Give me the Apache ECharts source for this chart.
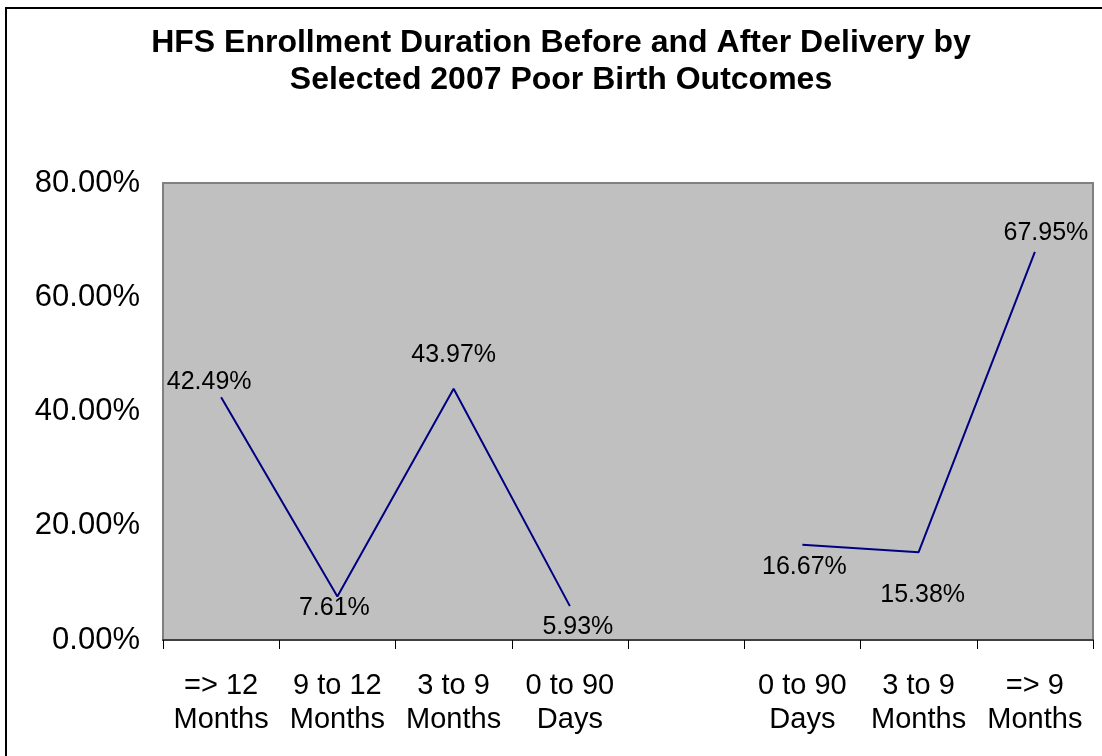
<!DOCTYPE html>
<html>
<head>
<meta charset="utf-8">
<script src="https://cdn.jsdelivr.net/npm/echarts@6/dist/echarts.min.js"></script>
<style>
	html,body{margin:0;padding:0;background:#fff;}
	/*外框*/
	.frame{position:absolute;left:5px;top:7px;width:1200px;height:800px;border:2px solid #000;box-sizing:border-box;}
	.chart{position:absolute;left:0;top:0;width:1102px;height:756px;}
</style>
</head>
<body>
<div class="frame"></div>
<div id="myChart" class="chart"></div>
<script>
	// 数据
	var categories = ['=> 12\nMonths', '9 to 12\nMonths', '3 to 9\nMonths', '0 to 90\nDays', '', '0 to 90\nDays', '3 to 9\nMonths', '=> 9\nMonths'];
	var values = [42.49, 7.61, 43.97, 5.93, null, 16.67, 15.38, 67.95];
	var yTicks = [0, 20, 40, 60, 80];

	// 标签偏移
	var labelOffsets = [[-12, -15], [-3, 12], [0, -34], [8, 21], [0, 0], [2, 22], [4, 43], [11, -19]];

	var seriesData = values.map(function (v, i) {
		return {
			value: v,
			label: { offset: labelOffsets[i] }
		};
	});

	var myChart = echarts.init(document.getElementById('myChart'));
	var option = {
		backgroundColor: 'transparent',
		animation: false,
		title: {
			text: 'HFS Enrollment Duration Before and After Delivery by\nSelected 2007 Poor Birth Outcomes',
			left: 556,
			top: 20,
			textAlign: 'center',
			textStyle: {
				fontFamily: 'Liberation Sans',
				fontWeight: 'bold',
				fontSize: 32,
				lineHeight: 37,
				color: '#000'
			}
		},
		grid: {
			left: 163,
			right: 9,
			top: 183,
			bottom: 116,
			show: true,
			backgroundColor: '#c0c0c0',
			borderColor: '#808080',
			borderWidth: 2
		},
		xAxis: {
			type: 'category',
			data: categories,
			boundaryGap: true,
			axisLine: { lineStyle: { color: '#404040', width: 2 } },
			axisTick: { show: true, length: 9, lineStyle: { color: '#000', width: 1 } },
			axisLabel: {
				interval: 0,
				margin: 29,
				fontFamily: 'Liberation Sans',
				fontSize: 29,
				lineHeight: 34,
				color: '#000'
			},
			splitLine: { show: false }
		},
		yAxis: {
			type: 'value',
			min: yTicks[0],
			max: yTicks[yTicks.length - 1],
			interval: 20,
			axisLine: { show: false },
			axisTick: { show: false },
			splitLine: { show: false },
			axisLabel: {
				margin: 23,
				fontFamily: 'Liberation Sans',
				fontSize: 31,
				color: '#000',
				formatter: function (v) { return v.toFixed(2) + '%'; }
			}
		},
		series: [{
			type: 'line',
			data: seriesData,
			connectNulls: false,
			symbol: 'circle',
			symbolSize: 0,
			showSymbol: true,
			lineStyle: { color: '#000080', width: 2 },
			itemStyle: { color: '#000080' },
			label: {
				show: true,
				position: 'inside',
				align: 'center',
				verticalAlign: 'middle',
				fontFamily: 'Liberation Sans',
				fontSize: 25,
				color: '#000',
				formatter: function (p) { return p.value.toFixed(2) + '%'; }
			}
		}]
	};
	myChart.setOption(option);
</script>
</body>
</html>
